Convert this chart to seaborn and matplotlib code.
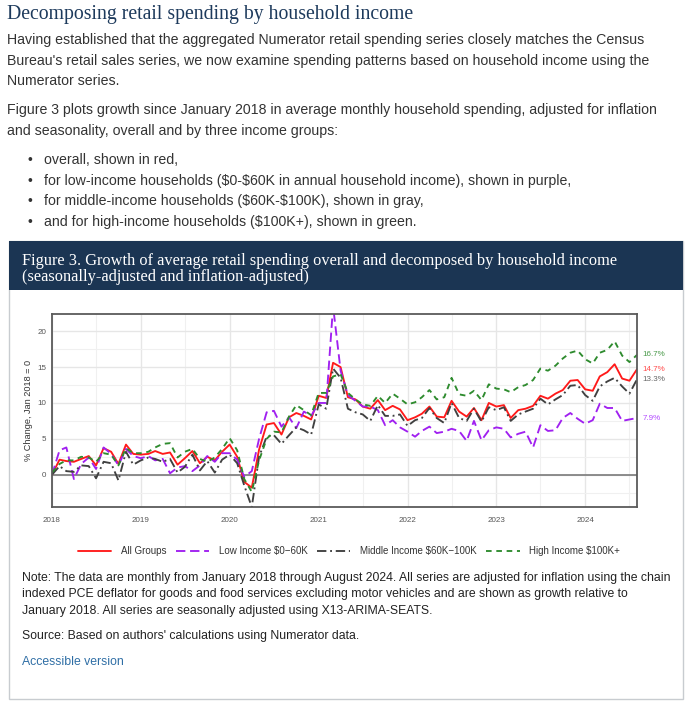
import numpy as np
import pandas as pd
import seaborn as sns
import matplotlib.pyplot as plt
import matplotlib.dates as mdates
from matplotlib.patches import Rectangle

# monthly series, Jan 2018 - Aug 2024, % change vs Jan 2018
all_groups = [0, 2.1, 1.9, 1.8, 2.2, 2.6, 1.3, 3.7, 3.2, 1.5, 4.2, 2.9,
              2.8, 2.9, 3.3, 2.9, 3.1, 1.4, 2.3, 3.3, 1.6, 2.5, 2.0, 3.2,
              4.2, 2.5, -1.0, -1.8, 3.5, 7.0, 7.2, 5.6, 8.0, 8.6, 8.2, 7.7,
              11.0, 10.7, 15.6, 15.0, 10.8, 10.5, 9.5, 9.2, 10.4, 9.0, 9.6, 9.1,
              7.6, 8.0, 8.5, 9.5, 8.1, 8.0, 10.3, 8.8, 8.1, 9.3, 7.6, 10.0,
              9.5, 9.7, 7.9, 9.0, 9.2, 9.6, 11.0, 10.6, 11.3, 11.8, 13.1, 13.2,
              11.9, 11.7, 13.7, 14.3, 15.4, 13.4, 13.1, 14.7]
low_income = [0, 3.4, 3.8, -0.6, 1.5, 2.4, 0.8, 3.8, 2.9, 1.3, 3.6, 2.6,
              2.3, 2.6, 2.0, 2.2, 0.2, 1.0, 1.2, 0.5, 1.3, 2.6, 1.8, 3.0,
              3.0, 2.1, -0.3, 0.5, 5.0, 8.7, 8.9, 6.7, 8.0, 6.5, 8.8, 8.2,
              10.0, 10.0, 23.5, 14.5, 11.1, 10.3, 9.5, 9.5, 9.0, 6.9, 7.6, 6.6,
              6.0, 5.3, 6.1, 6.7, 5.8, 6.0, 6.4, 6.1, 4.7, 7.5, 4.8, 6.2,
              6.6, 6.4, 5.2, 5.7, 6.0, 3.8, 6.9, 6.1, 6.2, 7.9, 8.6, 7.8,
              7.1, 7.6, 9.9, 9.3, 9.3, 7.5, 7.7, 7.9]
middle_income = [0, 1.2, 0.5, 0.4, 1.3, 1.2, -0.5, 1.8, 1.6, -0.8, 3.2, 1.4,
                 2.0, 2.4, 2.2, 1.8, 2.2, 0.3, 1.1, 2.8, 0.6, 1.9, 0.3, 2.1,
                 2.8, 1.6, -1.5, -4.5, 2.5, 5.3, 5.5, 4.3, 5.5, 6.6, 6.2, 5.6,
                 9.8, 9.2, 14.8, 13.5, 9.2, 8.7, 8.4, 7.5, 9.7, 8.2, 8.2, 8.4,
                 6.8, 7.6, 7.9, 9.3, 7.9, 7.2, 10.0, 7.9, 7.5, 9.2, 7.4, 9.4,
                 9.0, 9.4, 7.5, 8.4, 8.8, 9.2, 10.6, 9.8, 10.5, 11.1, 12.4, 12.5,
                 11.1, 10.3, 12.3, 13.0, 13.5, 12.3, 11.3, 13.3]
high_income = [0.3, 1.5, 2.0, 2.0, 2.5, 2.4, 1.8, 3.0, 2.8, 1.3, 3.7, 3.0,
               3.0, 3.2, 3.8, 4.3, 4.4, 2.4, 3.2, 3.6, 2.2, 1.8, 2.4, 3.6,
               5.1, 3.4, -0.6, -2.4, 2.0, 5.0, 6.0, 5.9, 8.1, 9.7, 9.0, 8.3,
               11.4, 11.4, 13.7, 14.0, 11.4, 10.5, 9.8, 9.6, 11.0, 10.0, 11.3, 10.6,
               9.8, 10.1, 10.8, 11.8, 10.5, 10.8, 13.5, 11.2, 11.0, 11.7, 10.4, 12.6,
               12.0, 11.9, 11.5, 12.2, 12.5, 13.2, 14.8, 14.5, 15.2, 16.2, 17.0, 17.3,
               16.1, 15.5, 17.0, 17.4, 18.6, 16.6, 15.7, 16.7]

months = pd.date_range("2018-01-01", periods=len(all_groups), freq="MS")
series_names = ["All Groups", "Low Income $0\u221260K",
                "Middle Income $60K\u2212100K", "High Income $100K+"]
series_vals = [all_groups, low_income, middle_income, high_income]
line_colors = ["#ff1a1a", "#a020f0", "#404040", "#2e8b2e"]
label_colors = ["#ff4d4d", "#b44dff", "#666666", "#4a9a4a"]
line_styles = ["-", (0, (5, 2.5)), (0, (5, 2, 1, 2)), (0, (3, 2.5))]

W, H = 686, 702
sns.set_style("white")
plt.rcParams["font.family"] = ["Liberation Sans", "DejaVu Sans"]

fig = plt.figure(figsize=(W / 100, H / 100), dpi=100)


def px(x, y):
    return x / W, 1 - y / H


# page text above the figure box
serif = ["Liberation Serif", "DejaVu Serif"]
fig.text(*px(7, 14), "Decomposing retail spending by household income", family=serif,
         fontsize=14.2, color="#1d3a5c", va="center")
body = "#333333"
para = [(40, "Having established that the aggregated Numerator retail spending series closely matches the Census"),
        (61, "Bureau's retail sales series, we now examine spending patterns based on household income using the"),
        (81, "Numerator series."),
        (110, "Figure 3 plots growth since January 2018 in average monthly household spending, adjusted for inflation"),
        (131, "and seasonality, overall and by three income groups:")]
for y, t in para:
    fig.text(*px(7, y), t, fontsize=10.2, color=body, va="center", parse_math=False)
bullets = ["overall, shown in red,",
           "for low-income households ($0-$60K in annual household income), shown in purple,",
           "for middle-income households ($60K-$100K), shown in gray,",
           "and for high-income households ($100K+), shown in green."]
for i, t in enumerate(bullets):
    y = 160 + i * 20.7
    fig.text(*px(27, y), "\u2022", fontsize=10, color=body, va="center")
    fig.text(*px(44, y), t, fontsize=10.2, color=body, va="center", parse_math=False)

# figure box and header band
fig.add_artist(Rectangle(px(9, 699), 674 / W, 458 / H, transform=fig.transFigure,
                         facecolor="white", edgecolor="#c8ccd0", linewidth=1, zorder=-2))
fig.add_artist(Rectangle(px(9, 290), 674 / W, 49 / H, transform=fig.transFigure,
                         facecolor="#1b3553", edgecolor="none", zorder=-1))
fig.text(*px(22, 261), "Figure 3. Growth of average retail spending overall and decomposed by household income",
         family=serif, fontsize=11.8, color="white", va="center")
fig.text(*px(22, 277), "(seasonally-adjusted and inflation-adjusted)",
         family=serif, fontsize=11.8, color="white", va="center")

# chart
ax = fig.add_axes([52 / W, 1 - 507 / H, 585 / W, 193 / H])
for name, vals, c, ls in zip(series_names, series_vals, line_colors, line_styles):
    df = pd.DataFrame({"month": months, "value": vals})
    sns.lineplot(data=df, x="month", y="value", ax=ax, color=c, linestyle=ls,
                 linewidth=1.35, label=name, legend=False)
handles = ax.get_lines()[:4]

ax.set_xlim(months[0], months[-1])
ax.set_ylim(-4.5, 22.4)
ax.set_yticks([0, 5, 10, 15, 20])
ax.set_yticks([-2.5, 2.5, 7.5, 12.5, 17.5], minor=True)
ax.xaxis.set_major_locator(mdates.YearLocator())
ax.xaxis.set_minor_locator(mdates.MonthLocator(bymonth=7))
ax.xaxis.set_major_formatter(mdates.DateFormatter("%Y"))
ax.grid(True, which="major", color="#e6e6e6", linewidth=1)
ax.grid(True, which="minor", color="#f0f0f0", linewidth=0.8)
ax.axhline(0, color="#7a7a7a", linewidth=1.2, zorder=1)
ax.tick_params(axis="y", which="both", length=0, labelsize=5.8, labelcolor="#555555", pad=4)
ax.tick_params(axis="x", which="both", length=0, labelsize=5.8, labelcolor="#555555", pad=7)
ax.set_xlabel("")
ax.set_ylabel("% Change, Jan 2018 = 0", fontsize=6.6, color="#333333", labelpad=3)
for s in ax.spines.values():
    s.set_visible(True)
    s.set_color("#5a5a5a")
    s.set_linewidth(1.3)

# end labels
for vals, c in zip(series_vals, label_colors):
    ax.annotate(f"{vals[-1]:.1f}%", xy=(months[-1], vals[-1]), xytext=(4, 0),
                textcoords="offset points", fontsize=5.8, color=c, va="center",
                annotation_clip=False)

fig.legend(handles, series_names, loc="center", bbox_to_anchor=px(349, 551), ncol=4,
           frameon=False, fontsize=7.0, handlelength=3.4, handletextpad=1.0,
           columnspacing=1.0, labelcolor="#333333")

# note and source
note = ["Note: The data are monthly from January 2018 through August 2024. All series are adjusted for inflation using the chain",
        "indexed PCE deflator for goods and food services excluding motor vehicles and are shown as growth relative to",
        "January 2018. All series are seasonally adjusted using X13-ARIMA-SEATS."]
for i, t in enumerate(note):
    fig.text(*px(22, 578 + i * 16.3), t, fontsize=8.85, color="#222222", va="center")
fig.text(*px(22, 636), "Source: Based on authors' calculations using Numerator data.",
         fontsize=8.85, color="#222222", va="center")
fig.text(*px(22, 662), "Accessible version", fontsize=8.85, color="#2f6ea5", va="center")

fig.savefig("out.png", dpi=100)
